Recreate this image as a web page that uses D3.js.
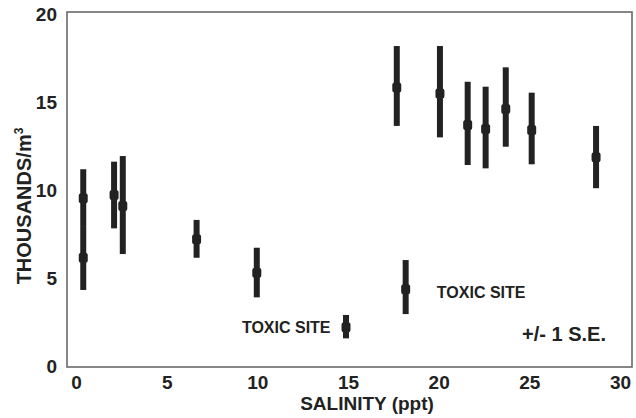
<!DOCTYPE html>
<html><head><meta charset="utf-8">
<script src="https://cdn.jsdelivr.net/npm/d3@7"></script>
<style>
html,body{margin:0;padding:0;background:#fff;}
svg{display:block;font-family:"Liberation Sans",Arial,Helvetica,sans-serif;font-weight:bold;}
</style></head>
<body>
<svg id="c" width="636" height="418"></svg>
<script>
// Data
const salinity = [0.4, 0.4, 2.1, 2.58, 6.65, 9.97, 14.89, 17.69, 18.18, 20.07, 21.60, 22.59, 23.70, 25.13, 28.68];
const meanK    = [9.53, 6.15, 9.72, 9.09, 7.20, 5.30, 2.20, 15.83, 4.36, 15.49, 13.69, 13.47, 14.60, 13.41, 11.86];
const lowK     = [7.90, 4.32, 7.82, 6.36, 6.15, 3.90, 1.57, 13.64, 2.95, 12.99, 11.42, 11.23, 12.46, 11.46, 10.10];
const highK    = [11.18, 7.90, 11.61, 11.93, 8.30, 6.72, 2.90, 18.18, 6.02, 18.18, 16.15, 15.87, 16.97, 15.53, 13.64];
const xTicks = [0, 5, 10, 15, 20, 25, 30];
const yTicks = [0, 5, 10, 15, 20];
const notes = [
  {text: "TOXIC SITE", x: 9.15, y: 2.2, size: 16},
  {text: "TOXIC SITE", x: 19.9, y: 4.2, size: 16},
  {text: "+/- 1 S.E.", x: 24.6, y: 1.82, size: 20}
];

const svg = d3.select("#c");
const x = d3.scaleLinear().domain([0, 30]).range([76, 620]);
const y = d3.scaleLinear().domain([0, 20]).range([366, 14]);
const ink = "#222";

// frame
svg.append("rect").attr("x", 67).attr("y", 12).attr("width", 565).attr("height", 355)
  .attr("fill", "none").attr("stroke", "#6a6a6a").attr("stroke-width", 1.6);

// x axis labels
const xa = d3.axisBottom(x).tickValues(xTicks).tickSize(0).tickPadding(0);
const gx = svg.append("g").attr("transform", "translate(0,389)").call(xa);
gx.select(".domain").remove();
gx.selectAll("text").attr("dy", 0).attr("font-size", 19).attr("fill", ink)
  .attr("font-family", "'Liberation Sans',Arial,sans-serif").attr("font-weight", "bold");

// y axis labels
const ya = d3.axisLeft(y).tickValues(yTicks).tickSize(0).tickPadding(0);
const gy = svg.append("g").attr("transform", "translate(57,0)").call(ya);
gy.select(".domain").remove();
gy.selectAll("text").attr("dy", "0.36em").attr("font-size", 19).attr("fill", ink)
  .attr("font-family", "'Liberation Sans',Arial,sans-serif").attr("font-weight", "bold");

// axis titles
svg.append("text").attr("x", 367).attr("y", 410).attr("text-anchor", "middle")
  .attr("font-size", 19).attr("fill", ink).text("SALINITY (ppt)");
const yt = svg.append("text").attr("transform", "translate(31,206) rotate(-90)")
  .attr("text-anchor", "middle").attr("font-size", 20).attr("fill", ink);
yt.append("tspan").text("THOUSANDS/m");
yt.append("tspan").attr("dy", -8).attr("font-size", 12).text("3");

// error bars
const idx = d3.range(salinity.length);
svg.append("g").selectAll("line").data(idx).join("line")
  .attr("x1", i => x(salinity[i])).attr("x2", i => x(salinity[i]))
  .attr("y1", i => y(highK[i])).attr("y2", i => y(lowK[i]))
  .attr("stroke", ink).attr("stroke-width", 6);
svg.append("g").selectAll("rect").data(idx).join("rect")
  .attr("x", i => x(salinity[i]) - 4.5).attr("y", i => y(meanK[i]) - 5)
  .attr("width", 9).attr("height", 10).attr("rx", 2.5)
  .attr("fill", ink);

// notes
svg.append("g").selectAll("text").data(notes).join("text")
  .attr("x", d => x(d.x)).attr("y", d => y(d.y)).attr("dy", "0.36em")
  .attr("font-size", d => d.size).attr("fill", ink).text(d => d.text);
</script>
</body></html>
